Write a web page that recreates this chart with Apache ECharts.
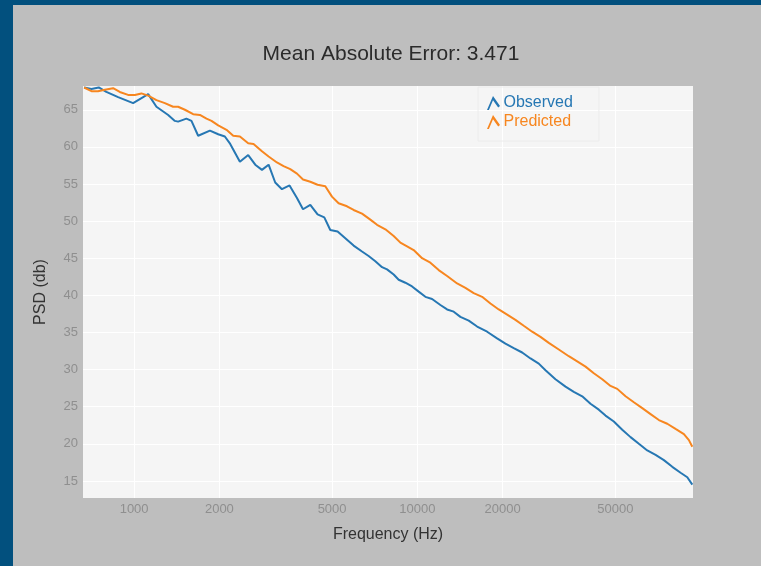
<!DOCTYPE html>
<html>
<head>
<meta charset="utf-8">
<script src="https://cdn.jsdelivr.net/npm/echarts@6/dist/echarts.min.js"></script>
<style>
  html, body { margin: 0; padding: 0; }
  #chart { width: 761px; height: 566px; }
</style>
</head>
<body>
<div id="chart"></div>
<script>
// observed PSD
var obsFreq = [666, 707, 750, 798, 878, 992, 1121, 1199, 1319, 1393, 1430, 1530, 1594, 1683, 1852, 1981,
  2091, 2184, 2363, 2528, 2677, 2827, 2984, 3149, 3326, 3538, 3758, 3947, 4188, 4443, 4693, 4927,
  5229, 5567, 5956, 6377, 6728, 7106, 7505, 7816, 8248, 8591, 9071, 9579, 10107, 10673, 11270, 12060,
  12734, 13438, 14189, 15183, 16255, 17632, 19120, 20464, 21890, 23442, 25082, 26833, 28339, 30730,
  33343, 35671, 38194, 40858, 43711, 46163, 49386, 52887, 56574, 60534, 64819, 69343, 74182, 79433,
  84978, 89743, 93475]
var obsPsd = [68.0, 67.8, 68.0, 67.4, 66.7, 65.9, 67.1, 65.4, 64.3, 63.5, 63.4, 63.8, 63.5, 61.5, 62.2, 61.7,
  61.4, 60.4, 58.0, 58.9, 57.6, 56.9, 57.6, 55.2, 54.3, 54.8, 53.1, 51.6, 52.2, 50.9, 50.5, 48.8,
  48.6, 47.7, 46.7, 45.9, 45.3, 44.6, 43.8, 43.5, 42.8, 42.1, 41.7, 41.2, 40.5, 39.8, 39.5, 38.7,
  38.1, 37.8, 37.1, 36.6, 35.8, 35.1, 34.2, 33.5, 32.9, 32.3, 31.5, 30.8, 29.9, 28.7,
  27.7, 27.0, 26.4, 25.4, 24.6, 23.8, 23.0, 21.9, 20.9, 20.0, 19.1, 18.5, 17.8, 16.9,
  16.1, 15.5, 14.5]

// predicted PSD
var predFreq = [666, 707, 746, 788, 843, 890, 952, 1006, 1061, 1121, 1199, 1284, 1373, 1430, 1511, 1616,
  1707, 1801, 1876, 1981, 2119, 2238, 2363, 2528, 2640, 2827, 2984, 3193, 3370, 3558, 3758, 3947,
  4188, 4443, 4731, 4995, 5271, 5644, 5956, 6377, 6822, 7205, 7709, 8248, 8711, 9197, 9703, 10389,
  11116, 11894, 12734, 13815, 14780, 15810, 16930, 18113, 19377, 20749, 22195, 23747, 25427, 27207,
  29107, 31572, 34246, 36672, 39237, 41976, 44948, 48084, 50780, 54325, 58117, 62230, 66576, 71236,
  76261, 81566, 87297, 90928, 93475]
var predPsd = [68.0, 67.5, 67.5, 67.7, 67.9, 67.4, 67.0, 67.0, 67.2, 66.9, 66.3, 65.9, 65.4, 65.4, 65.0, 64.4,
  64.3, 63.8, 63.5, 62.9, 62.3, 61.5, 61.4, 60.5, 60.4, 59.4, 58.7, 57.9, 57.4, 57.0, 56.4, 55.6,
  55.3, 54.9, 54.7, 53.3, 52.4, 52.0, 51.5, 51.0, 50.2, 49.5, 48.9, 48.0, 47.1, 46.6, 46.1, 45.0,
  44.4, 43.4, 42.6, 41.6, 41.0, 40.3, 39.8, 38.9, 38.1, 37.4, 36.7, 35.9, 35.1, 34.4,
  33.6, 32.7, 31.8, 31.1, 30.4, 29.5, 28.7, 27.8, 27.4, 26.4, 25.6, 24.8, 24.0, 23.2,
  22.7, 22.0, 21.3, 20.5, 19.6]

var xTicks = [1000, 2000, 5000, 10000, 20000, 50000]
var yTicks = [15, 20, 25, 30, 35, 40, 45, 50, 55, 60, 65]

function pairs (xs, ys) {
  return xs.map(function (x, i) { return [x, ys[i]] })
}

var caret = 'path://M0,14 L6,0 L13,10 L11.2,11.4 L6,4.2 L1.9,14 Z'

var myChart = echarts.init(document.getElementById('chart'))
var option = {
  backgroundColor: '#bebebe',
  textStyle: { fontFamily: 'Liberation Sans, Arial, sans-serif' },
  animation: false,
  graphic: [
    { type: 'rect', left: 0, top: 0, shape: { width: 13, height: 566 }, style: { fill: '#02507e' } },
    { type: 'rect', left: 0, top: 0, shape: { width: 761, height: 5 }, style: { fill: '#02507e' } }
  ],
  title: {
    text: 'Mean Absolute Error: 3.471',
    left: 386,
    textAlign: 'center',
    top: 39,
    textStyle: { fontSize: 21, fontWeight: 'normal', color: '#2b2b2b' }
  },
  legend: {
    orient: 'vertical',
    left: 478,
    top: 87,
    padding: [8, 26, 11, 9],
    borderColor: '#ececec',
    borderWidth: 1,
    itemWidth: 14,
    itemHeight: 14,
    itemGap: 3,
    data: [
      { name: 'Observed', icon: caret, textStyle: { color: '#2677b3' } },
      { name: 'Predicted', icon: caret, textStyle: { color: '#f7861f' } }
    ],
    textStyle: { fontSize: 16, padding: [0, 0, 0, -2] }
  },
  grid: {
    left: 83,
    right: 68,
    top: 86,
    bottom: 68,
    show: true,
    backgroundColor: '#f5f5f5',
    borderWidth: 0
  },
  xAxis: {
    type: 'log',
    min: 660,
    max: 94000,
    name: 'Frequency (Hz)',
    nameLocation: 'middle',
    nameGap: 29,
    nameTextStyle: { fontSize: 16, color: '#333' },
    axisLine: { show: false },
    axisTick: { show: false, customValues: xTicks },
    axisLabel: {
      customValues: xTicks,
      color: '#8f8f8f',
      fontSize: 13,
      margin: 5,
      formatter: function (v) { return String(Math.round(v)) }
    },
    splitLine: { show: true, lineStyle: { color: '#ffffff', width: 1 } },
    minorSplitLine: { show: false }
  },
  yAxis: {
    type: 'value',
    min: 12.7,
    max: 68.2,
    name: 'PSD (db)',
    nameLocation: 'middle',
    nameGap: 34,
    nameTextStyle: { fontSize: 16, color: '#333' },
    axisLine: { show: false },
    axisTick: { show: false, customValues: yTicks },
    axisLabel: { customValues: yTicks, color: '#8f8f8f', fontSize: 13, margin: 5 },
    splitLine: { show: true, lineStyle: { color: '#ffffff', width: 1 } }
  },
  series: [
    {
      name: 'Observed',
      type: 'line',
      data: pairs(obsFreq, obsPsd),
      showSymbol: false,
      color: '#2677b3',
      lineStyle: { width: 2 }
    },
    {
      name: 'Predicted',
      type: 'line',
      data: pairs(predFreq, predPsd),
      showSymbol: false,
      color: '#f7861f',
      lineStyle: { width: 2 }
    }
  ]
}
myChart.setOption(option)
</script>
</body>
</html>
